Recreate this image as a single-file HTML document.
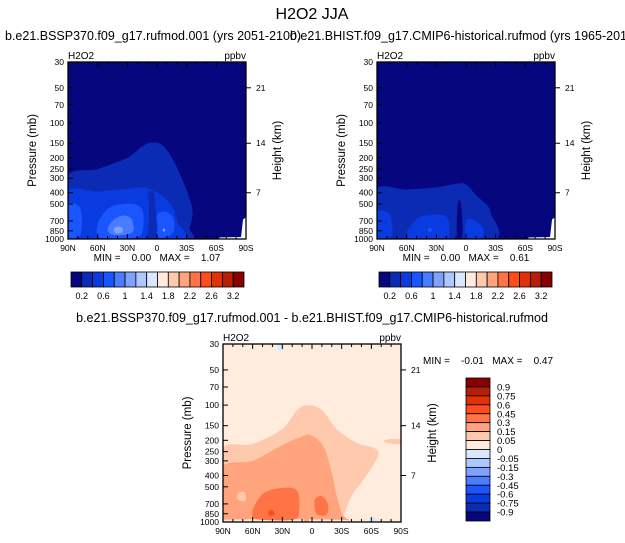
<!DOCTYPE html>
<html><head><meta charset="utf-8">
<style>
body{margin:0;background:#fff;}
svg{display:block;font-family:"Liberation Sans",sans-serif;}
.pre{white-space:pre;}
</style></head>
<body>
<svg id="s" width="625" height="543" viewBox="0 0 625 543">
<text x="312" y="19" font-size="16" text-anchor="middle">H2O2 JJA</text>
<text x="5" y="40" font-size="12.5">b.e21.BSSP370.f09_g17.rufmod.001 (yrs 2051-2100)</text>
<text x="290" y="40" font-size="12.5">b.e21.BHIST.f09_g17.CMIP6-historical.rufmod (yrs 1965-2014)</text>
<text x="312" y="322" font-size="12.5" text-anchor="middle">b.e21.BSSP370.f09_g17.rufmod.001 - b.e21.BHIST.f09_g17.CMIP6-historical.rufmod</text>
</svg>
<script>
const NS="http://www.w3.org/2000/svg";
const svg=document.getElementById('s');
const latTicks=[90,60,30,0,-30,-60,-90];
const latLabels=["90N","60N","30N","0","30S","60S","90S"];
const presTicks=[30,50,70,100,150,200,250,300,400,500,700,850,1000];
const heightTicks=[21,14,7];
const heightPres=[50,150,400];
const absLevels=["0.2","0.6","1","1.4","1.8","2.2","2.6","3.2"];
const absColors=["#06067f","#0c2bb5","#0a3be0","#1a56ff","#4a7cff","#7fa2ff","#adc7ff","#d8e8ff","#ffecdc","#ffc9ad","#ffa47c","#ff7446","#ff4c1c","#e0320a","#b41f05","#880000"];
const diffLevels=["0.9","0.75","0.6","0.45","0.3","0.15","0.05","0","-0.05","-0.15","-0.3","-0.45","-0.6","-0.75","-0.9"];
const panel1Stats=["0.00","1.07"];
const panel2Stats=["0.00","0.61"];
const panel3Stats=["-0.01","0.47"];
const p1Regions=[
 [1,[[92,300],[60,250],[30,200],[15,160],[5,148],[-5,155],[-15,200],[-25,300],[-33,450],[-36,600],[-33,800],[-27,1050],[92,1050]]],
 [2,[[92,395],[60,390],[30,370],[15,360],[5,380],[-5,420],[-15,520],[-20,700],[-22,1050],[92,1050]]],
 [1,[[9,400],[6,390],[3,400],[1,600],[1,1050],[9,1050],[8,600]]],
 [3,[[92,520],[80,510],[76,650],[77,900],[80,960],[92,960]]],
 [3,[[55,620],[45,520],[25,500],[15,560],[14,800],[20,960],[50,990],[60,930],[60,750]]],
 [3,[[0,620],[-8,580],[-16,650],[-17,850],[-10,960],[0,950],[-1,800]]],
 [4,[[45,700],[35,630],[26,670],[24,850],[32,920],[45,920],[50,830]]],
 [5,[[43,800],[36,790],[35,870],[42,890]]],
 [5,[[-6,820],[-8,820],[-8,860],[-6,860]]]
];
const p2Regions=[
 [1,[[92,380],[60,375],[30,360],[10,335],[0,340],[-10,420],[-20,500],[-25,600],[-25,1050],[92,1050]]],
 [1,[[8,480],[6,470],[5,600],[5,1050],[9,1050],[9,600]]],
 [2,[[92,590],[78,600],[75,750],[76,960],[92,960]]],
 [2,[[55,750],[45,640],[25,620],[18,680],[17,900],[20,1050],[55,1050],[60,900]]],
 [2,[[0,700],[-8,690],[-17,800],[-17,950],[-10,1050],[0,1050]]],
 [0,[[8,480],[6,470],[4,600],[4,950],[9,950],[9,600]]],
 [3,[[38,810],[35,810],[35,860],[38,860]]]
];
const diffColors=["#d8e8ff","#ffecdc","#ffc9ad","#ffa47c","#ff7446","#ff4c1c"];
const p3Regions=[
 [2,[[92,250],[60,215],[30,160],[15,110],[5,100],[-10,110],[-25,160],[-45,210],[-67,250],[-55,400],[-40,600],[-32,900],[-30,1050],[92,1050]]],
 [3,[[92,350],[60,300],[30,220],[10,185],[0,182],[-12,230],[-20,380],[-25,600],[-30,850],[-30,1050],[92,1050]]],
 [1,[[92,960],[-30,960],[-30,1050],[92,1050]]],
 [2,[[74,560],[68,560],[67,650],[72,660],[76,620]]],
 [4,[[58,720],[48,560],[30,510],[15,540],[13,780],[18,950],[50,960],[60,900]]],
 [4,[[-3,640],[-10,600],[-16,700],[-15,860],[-6,870],[-3,780]]],
 [3,[[7,470],[5,440],[3,470],[3,960],[8,960]]],
 [5,[[44,810],[40,790],[38,860],[43,880]]],
 [2,[[-80,195],[-72,205],[-82,215],[-92,212],[-92,198]]],
 [0,[[35,30],[30,30],[28,33],[33,35]]],
 [0,[[-62,900],[-58,960],[-62,1050],[-66,980]]]
];
function el(tag,attrs,name,inter,parent){
 const e=document.createElementNS(NS,tag);
 for(const k in attrs)e.setAttribute(k,attrs[k]);
 
 
 (parent||svg).appendChild(e);return e;
}
function smooth(pts){
 const n=pts.length;let d="M"+pts[0][0]+","+pts[0][1];
 for(let i=0;i<n;i++){
  const p0=pts[(i-1+n)%n],p1=pts[i],p2=pts[(i+1)%n],p3=pts[(i+2)%n];
  const c1=[p1[0]+(p2[0]-p0[0])/6,p1[1]+(p2[1]-p0[1])/6];
  const c2=[p2[0]-(p3[0]-p1[0])/6,p2[1]-(p3[1]-p1[1])/6];
  d+="C"+c1[0]+","+c1[1]+" "+c2[0]+","+c2[1]+" "+p2[0]+","+p2[1];
 }
 return d+"Z";
}
function panel(id,L,T,W,H,bg,regions,colors,missing){
 const X=lat=>L+(90-lat)/180*W;
 const Y=p=>T+Math.log10(p/30)/Math.log10(1000/30)*H;
 const g=el('g',{},id+'-panel',false);
 const cp=el('clipPath',{id:id+'clip'},id+'-clip',false,g);
 el('rect',{x:L,y:T,width:W,height:H},id+'-clip-rect',false,cp);
 el('rect',{x:L,y:T,width:W,height:H,fill:bg},id+'-background-fill',false,g);
 const cg=el('g',{'clip-path':'url(#'+id+'clip)'},id+'-contours',false,g);
 regions.forEach(r=>{
  const pts=r[1].map(q=>[X(q[0]),Y(q[1])]);
  el('path',{d:smooth(pts),fill:colors[r[0]]},id+'-contour-region',false,cg);
 });
 if(missing){
  el('path',{d:`M${X(-63)},${Y(1000)}L${X(-63)},${Y(970)}L${X(-85)},${Y(960)}L${X(-87)},${Y(680)}L${X(-90)},${Y(650)}L${X(-90)},${Y(1000)}Z`,fill:'#fff'},id+'-missing-data',false,cg);
 }
 el('rect',{x:L,y:T,width:W,height:H,fill:'none',stroke:'#000','stroke-width':1.3},id+'-plot-frame',false,g);
 for(let lat=90;lat>=-90;lat-=10){
  const maj=lat%30===0, len=maj?5:3;
  el('line',{x1:X(lat),x2:X(lat),y1:T+H,y2:T+H-len,stroke:'#000'},id+'-x-tick',false,g);
  el('line',{x1:X(lat),x2:X(lat),y1:T,y2:T+len,stroke:'#000'},id+'-x-tick-top',false,g);
 }
 latTicks.forEach((lat,i)=>{
  const t=el('text',{x:X(lat),y:T+H+12,'font-size':8.5,'text-anchor':'middle'},id+'-x-tick-label',false,g);t.textContent=latLabels[i];
 });
 presTicks.forEach(p=>{
  el('line',{x1:L,x2:L+5,y1:Y(p),y2:Y(p),stroke:'#000'},id+'-y-tick',false,g);
  const t=el('text',{x:L-4,y:Y(p)+3,'font-size':8.5,'text-anchor':'end'},id+'-y-tick-label',false,g);t.textContent=p;
 });
 heightTicks.forEach((h,i)=>{
  el('line',{x1:L+W,x2:L+W+5,y1:Y(heightPres[i]),y2:Y(heightPres[i]),stroke:'#000'},id+'-height-tick',false,g);
  const t=el('text',{x:L+W+10,y:Y(heightPres[i])+3,'font-size':8.5},id+'-height-tick-label',false,g);t.textContent=h;
 });
 let t=el('text',{x:L,y:T-3,'font-size':10},id+'-variable-label',false,g);t.textContent="H2O2";
 t=el('text',{x:L+W,y:T-3,'font-size':10,'text-anchor':'end'},id+'-units-label',false,g);t.textContent="ppbv";
 t=el('text',{transform:`translate(${L-32},${T+H/2}) rotate(-90)`,'font-size':11.5,'text-anchor':'middle'},id+'-y-axis-title',false,g);t.textContent="Pressure (mb)";
 t=el('text',{transform:`translate(${L+W+35},${T+H/2}) rotate(-90)`,'font-size':11.5,'text-anchor':'middle'},id+'-right-axis-title',false,g);t.textContent="Height (km)";
 return g;
}
const g1=panel('p1',68,62,178,177,absColors[0],p1Regions,absColors,true);
const g2=panel('p2',377,62,178,177,absColors[0],p2Regions,absColors,true);
const g3=panel('p3',223,344,178,178,diffColors[1],p3Regions,diffColors,false);
function stats(g,x,y,v,anchor){
 const t=el('text',{x:x,y:y,'font-size':10,'text-anchor':anchor,'class':'pre'},'min-max-text',false,g);
 t.textContent="MIN =    "+v[0]+"   MAX =    "+v[1];
}
stats(g1,157,261,panel1Stats,'middle');
stats(g2,466,261,panel2Stats,'middle');
stats(g3,423,364,panel3Stats,'start');
function hbar(L,Wd,name){
 const g=el('g',{},name,false);
 const bw=Wd/absColors.length;
 absColors.forEach((c,i)=>el('rect',{x:L+i*bw,y:272,width:bw,height:15,fill:c,stroke:'#000','stroke-width':0.8},'colorbar-box',false,g));
 absLevels.forEach((lab,i)=>{
  const k=i<7?1+2*i:15;
  const t=el('text',{x:L+k*bw,y:299,'font-size':9,'text-anchor':'middle'},'colorbar-label',false,g);t.textContent=lab;
 });
}
hbar(71,173,'p1-colorbar');
hbar(379,173,'p2-colorbar');
const vb=el('g',{},'p3-colorbar',false);
const vColors=absColors.slice().reverse();
const vTop=378, vh=(521-vTop)/16;
vColors.forEach((c,i)=>el('rect',{x:466,y:vTop+i*vh,width:24,height:vh,fill:c,stroke:'#000','stroke-width':0.8},'colorbar-box',false,vb));
diffLevels.forEach((lab,i)=>{
 const t=el('text',{x:497,y:vTop+(i+1)*vh+3.5,'font-size':9.5},'colorbar-label',false,vb);t.textContent=lab;
});
</script>
</body></html>
